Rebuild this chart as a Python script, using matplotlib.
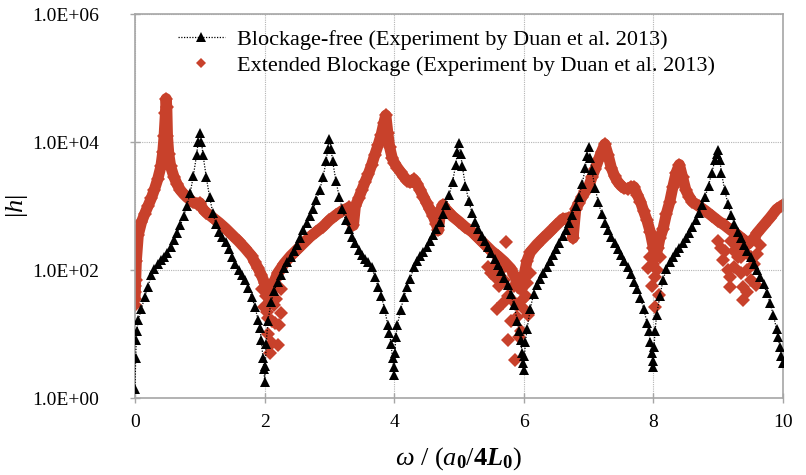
import matplotlib
matplotlib.use("Agg")
import matplotlib.pyplot as plt
from matplotlib.lines import Line2D

# blockage-free pipe, measured |h| (triangles)
free_w = [
    0.0, 0.01, 0.02, 0.03, 0.05, 0.1, 0.15, 0.2, 0.25, 0.3, 0.35, 0.4, 0.45, 0.5,
    0.55, 0.6, 0.65, 0.7, 0.75, 0.8, 0.85, 0.9, 0.95, 0.975, 1.0,
    1.025, 1.05, 1.1, 1.15, 1.2, 1.25, 1.3, 1.35, 1.4, 1.45, 1.5, 1.55, 1.6, 1.65,
    1.7, 1.75, 1.8, 1.85, 1.9, 1.925, 1.95, 1.975, 1.99, 2.0,
    2.01, 2.025, 2.05, 2.1, 2.15, 2.2, 2.25, 2.3, 2.35, 2.4, 2.45, 2.5, 2.55, 2.6,
    2.65, 2.7, 2.75, 2.8, 2.85, 2.9, 2.95, 2.975, 3.0,
    3.025, 3.05, 3.1, 3.15, 3.2, 3.25, 3.3, 3.35, 3.4, 3.45, 3.5, 3.55, 3.6, 3.65,
    3.7, 3.75, 3.8, 3.85, 3.9, 3.925, 3.95, 3.975, 3.99, 4.0,
    4.01, 4.025, 4.05, 4.1, 4.15, 4.2, 4.25, 4.3, 4.35, 4.4, 4.45, 4.5, 4.55, 4.6,
    4.65, 4.7, 4.75, 4.8, 4.85, 4.9, 4.95, 4.975, 5.0,
    5.025, 5.05, 5.1, 5.15, 5.2, 5.25, 5.3, 5.35, 5.4, 5.45, 5.5, 5.55, 5.6, 5.65,
    5.7, 5.75, 5.8, 5.85, 5.9, 5.925, 5.95, 5.975, 5.99, 6.0,
    6.01, 6.025, 6.05, 6.1, 6.15, 6.2, 6.25, 6.3, 6.35, 6.4, 6.45, 6.5, 6.55, 6.6,
    6.65, 6.7, 6.75, 6.8, 6.85, 6.9, 6.95, 6.975, 7.0,
    7.025, 7.05, 7.1, 7.15, 7.2, 7.25, 7.3, 7.35, 7.4, 7.45, 7.5, 7.55, 7.6, 7.65,
    7.7, 7.75, 7.8, 7.85, 7.9, 7.925, 7.95, 7.975, 7.99, 8.0,
    8.01, 8.025, 8.05, 8.1, 8.15, 8.2, 8.25, 8.3, 8.35, 8.4, 8.45, 8.5, 8.55, 8.6,
    8.65, 8.7, 8.75, 8.8, 8.85, 8.9, 8.95, 8.975, 9.0,
    9.025, 9.05, 9.1, 9.15, 9.2, 9.25, 9.3, 9.35, 9.4, 9.45, 9.5, 9.55, 9.6, 9.65,
    9.7, 9.75, 9.8, 9.85, 9.9, 9.925, 9.95, 9.975, 10.0,
]
free_h = [
    1.41, 4.17, 7.94, 11.2, 16.6, 25.1, 38.0, 55.0, 83.2, 105, 126, 145, 162, 186,
    229, 295, 380, 501, 692, 1000, 1585, 2951, 6310, 10000, 14125,
    10000, 6310, 2818, 1413, 794, 525, 398, 331, 275, 214, 158, 126, 100, 83.2,
    69.2, 52.5, 38.0, 26.9, 16.6, 12.6, 7.94, 4.17, 2.82, 1.78,
    3.16, 7.08, 15.8, 31.6, 47.9, 66.1, 85.1, 107, 132, 158, 200, 251, 316, 417,
    550, 692, 891, 1259, 1778, 2818, 5012, 7943, 11220,
    7943, 5012, 2512, 1413, 891, 603, 447, 331, 263, 209, 174, 151, 132, 112,
    79.4, 55.0, 39.8, 25.1, 14.1, 10.5, 7.08, 4.17, 3.02, 2.29,
    5.01, 8.91, 14.1, 24.0, 38.0, 55.0, 72.4, 112, 141, 166, 195, 229, 282, 355,
    447, 575, 759, 1047, 1514, 2399, 4467, 6918, 9550,
    6607, 4169, 2089, 1202, 794, 575, 437, 347, 282, 229, 186, 151, 120, 95.5,
    75.9, 57.5, 41.7, 28.2, 15.8, 11.2, 7.94, 5.01, 3.55, 2.75,
    4.47, 7.59, 12.0, 25.1, 41.7, 57.5, 72.4, 91.2, 112, 141, 174, 214, 269, 339,
    427, 550, 724, 1000, 1413, 2239, 3981, 6026, 8318,
    5754, 3631, 1905, 1148, 759, 550, 417, 331, 263, 214, 174, 138, 110, 87.1,
    66.1, 50.1, 36.3, 25.1, 15.1, 11.0, 7.59, 5.01, 3.80, 3.09,
    6.31, 11.2, 20.0, 39.8, 70.8, 105, 132, 158, 191, 224, 269, 316, 380, 479,
    603, 794, 1047, 1413, 2089, 3311, 5248, 6607, 7586,
    5248, 3311, 1778, 1072, 724, 525, 398, 316, 251, 200, 158, 126, 100, 79.4,
    60.3, 43.7, 30.2, 20.0, 12.0, 8.91, 6.31, 4.47, 3.55,
]

# extended blockage, measured |h| (diamonds): main trace
ext_w = [
    0.0, 0.01, 0.02, 0.05, 0.1, 0.15, 0.2, 0.25, 0.3, 0.35, 0.4, 0.43, 0.45, 0.47,
    0.48, 0.49, 0.5, 0.52, 0.55, 0.6, 0.65, 0.7, 0.75, 0.8, 0.85, 0.9, 0.95, 1.0,
    1.05, 1.1, 1.2, 1.3, 1.4, 1.5, 1.6, 1.7, 1.8, 1.85, 1.9, 1.95, 2.0, 2.05, 2.08,
    2.12, 2.16, 2.2, 2.3, 2.4, 2.5, 2.6, 2.7, 2.8, 2.9, 3.0, 3.1, 3.2, 3.3, 3.37,
    3.4, 3.45, 3.5, 3.55, 3.6, 3.65, 3.7, 3.75, 3.8, 3.84, 3.87, 3.9, 3.93, 3.97,
    4.0, 4.05, 4.1, 4.15, 4.2, 4.25, 4.3, 4.35, 4.4, 4.45, 4.5, 4.55, 4.6, 4.65,
    4.68, 4.72, 4.75, 4.8, 4.9, 5.0, 5.1, 5.2, 5.3, 5.4, 5.5, 5.6, 5.7, 5.8, 5.85,
    5.9, 5.95, 6.0, 6.05, 6.1, 6.2, 6.3, 6.4, 6.5, 6.6, 6.7, 6.76, 6.8, 6.85, 6.9,
    6.95, 7.0, 7.05, 7.1, 7.15, 7.2, 7.25, 7.3, 7.35, 7.4, 7.45, 7.5, 7.55, 7.6,
    7.65, 7.7, 7.75, 7.8, 7.85, 7.9, 7.95, 8.0, 8.03, 8.07, 8.1, 8.15, 8.2, 8.25,
    8.3, 8.35, 8.4, 8.45, 8.5, 8.55, 8.6, 8.7, 8.8, 8.9, 9.0, 9.1, 9.2, 9.3, 9.4,
    9.45, 9.5, 9.55, 9.6, 9.7, 9.8, 9.9, 10.0,
]
ext_h = [
    35.5, 70.8, 141, 355, 562, 759, 1000, 1318, 1820, 2630, 4169, 7079, 12589, 28184,
    47863, 35481, 12589, 6607, 4169, 2884, 2188, 1778, 1549, 1380, 1259, 1148, 1096, 1122,
    891, 794, 661, 550, 447, 355, 282, 219, 166, 132, 107, 83.2, 63.1, 39.8, 31.6,
    50.1, 70.8, 89.1, 126, 166, 209, 263, 331, 398, 479, 603, 724, 851, 955, 501,
    1000, 1318, 1778, 2399, 3162, 4365, 6310, 8913, 13183, 19953, 26303, 14125, 8318, 5623,
    4786, 3981, 3388, 2884, 2512, 2344, 2630, 2239, 1778, 1413, 1122, 891, 708, 525,
    417, 891, 1047, 891, 692, 575, 468, 398, 316, 251, 200, 166, 135, 105, 83.2,
    66.1, 50.1, 79.4, 141, 191, 251, 316, 398, 501, 631, 661, 316, 891, 1122, 1413,
    1698, 1995, 2818, 3802, 5248, 7079, 9333, 6310, 3981, 2951, 2399, 2089, 1905, 1862,
    1995, 1995, 1514, 1175, 832, 603, 398, 224, 158, 224, 316, 447, 759, 1148,
    1995, 3311, 4467, 2818, 1778, 1413, 1175, 1000, 851, 708, 589, 501, 417, 355, 295,
    251, 282, 316, 380, 501, 661, 891, 1047,
]

# extended blockage: scattered readings in the noisy troughs
ext_scatter_w = [
    0.0, 0.0, 0.005,
    1.99, 2.03, 2.06, 2.11, 2.16, 2.22, 2.26, 2.11, 2.21, 2.08, 2.05, 2.14, 2.18,
    2.02, 2.1, 2.25, 1.96,
    5.72, 5.58, 5.68, 5.76, 5.89, 6.07, 5.86, 5.8, 5.62, 5.7, 5.75, 5.8, 5.9, 5.95,
    6.0, 6.03, 6.05, 5.93, 5.5, 5.45, 5.55, 6.1, 5.85, 5.98, 5.65, 5.6,
    7.91, 8.02, 8.08, 8.02, 7.95, 8.05, 8.0, 8.1, 7.98,
    9.18, 9.18, 9.39, 9.39, 9.59, 9.08, 9.1, 9.25, 9.3, 9.35, 9.45, 9.5, 9.55, 9.6,
    9.2, 9.3, 9.4, 9.5, 9.65, 9.15, 9.45, 9.0, 9.05, 9.25, 9.35,
]
ext_scatter_h = [
    28.2, 44.7, 56.2,
    26.9, 22.4, 17.8, 15.8, 14.8, 13.8, 21.4, 7.24, 6.76, 5.01, 10.0, 28.2, 35.5,
    39.8, 41.7, 50.1, 50.1,
    275, 25.1, 30.2, 7.94, 18.6, 20.0, 3.98, 15.8, 56.2, 70.8, 39.8, 35.5, 28.2, 11.2,
    25.1, 39.8, 63.1, 8.91, 89.1, 112, 79.4, 89.1, 56.2, 35.5, 100, 126,
    107, 79.4, 40.7, 26.9, 158, 100, 126, 158, 56.2,
    79.4, 55.0, 55.0, 33.9, 58.9, 145, 200, 112, 158, 89.1, 100, 70.8, 126, 178,
    282, 251, 200, 158, 251, 100, 44.7, 282, 224, 200, 158,
]

x_ticks = [0, 2, 4, 6, 8, 10]
y_ticks = [1.0, 1.0e2, 1.0e4, 1.0e6]
y_tick_labels = ['1.0E+00', '1.0E+02', '1.0E+04', '1.0E+06']

RED = '#C8412B'
GRID = '#B4B4B4'
FRAME = '#A6A6A6'

plt.rcParams['font.family'] = ['Liberation Serif', 'DejaVu Serif']
plt.rcParams['mathtext.fontset'] = 'custom'
plt.rcParams['mathtext.rm'] = 'Liberation Serif'
plt.rcParams['mathtext.it'] = 'Liberation Serif:italic'
plt.rcParams['mathtext.bf'] = 'Liberation Serif:bold'
plt.rcParams['mathtext.bfit'] = 'Liberation Serif:bold:italic'

fig = plt.figure(figsize=(8.06, 4.75), dpi=100)
ax = fig.add_axes([0.1675, 0.162, 0.804, 0.808])

ax.set_yscale('log')
ax.set_xlim(0, 10)
ax.set_ylim(1.0, 1.0e6)

ax.grid(True, which='major', color=GRID, linestyle=(0, (1, 1)), linewidth=0.8)
ax.set_axisbelow(True)

# extended blockage trace: dense diamonds drawn as a thick band
ax.plot(ext_w, ext_h, color=RED, linewidth=8, solid_joinstyle='round',
        solid_capstyle='round', zorder=2)
ax.plot(ext_w, ext_h, linestyle='none', marker='D', markersize=7.5,
        color=RED, markeredgewidth=0, zorder=2)
ax.plot(ext_scatter_w, ext_scatter_h, linestyle='none', marker='D', markersize=7,
        color=RED, markeredgewidth=0, zorder=2)

# blockage-free trace
ax.plot(free_w, free_h, color='black', linestyle=(0, (1, 1.2)), linewidth=0.9,
        marker='^', markersize=7.5, markeredgewidth=0, zorder=3)

ax.set_xticks(x_ticks)
ax.set_yticks(y_ticks)
ax.set_yticklabels(y_tick_labels)
ax.minorticks_off()
ax.tick_params(axis='both', which='major', labelsize=14, color=FRAME,
               direction='inout', length=7, width=1)
ax.tick_params(axis='y', pad=22)
ax.tick_params(axis='x', pad=8)

for side in ['left', 'right', 'top', 'bottom']:
    ax.spines[side].set_color(FRAME)
    ax.spines[side].set_linewidth(1.2)

ax.set_xlabel(r'$\omega$ / ($a_\mathbf{0}$/$\mathbf{4}\mathbfit{L}_\mathbf{0}$)',
              fontsize=19, labelpad=10)
ax.set_ylabel(r'|$h$|', fontsize=19)
ax.yaxis.set_label_coords(-0.162, 0.5)

handles = [
    Line2D([], [], color='black', linestyle=(0, (1, 1.2)), linewidth=0.9,
           marker='^', markersize=6.5, markeredgewidth=0),
    Line2D([], [], color=RED, linestyle='none', marker='D', markersize=5,
           markeredgewidth=0),
]
labels = [
    'Blockage-free (Experiment by Duan et al. 2013)',
    'Extended Blockage (Experiment by Duan et al. 2013)',
]
ax.legend(handles, labels, loc='upper left', bbox_to_anchor=(0.046, 0.995),
          frameon=False, fontsize=16, handlelength=2.1, handletextpad=0.55,
          labelspacing=0.25, borderaxespad=0.2)

fig.savefig('out.png', dpi=100)
